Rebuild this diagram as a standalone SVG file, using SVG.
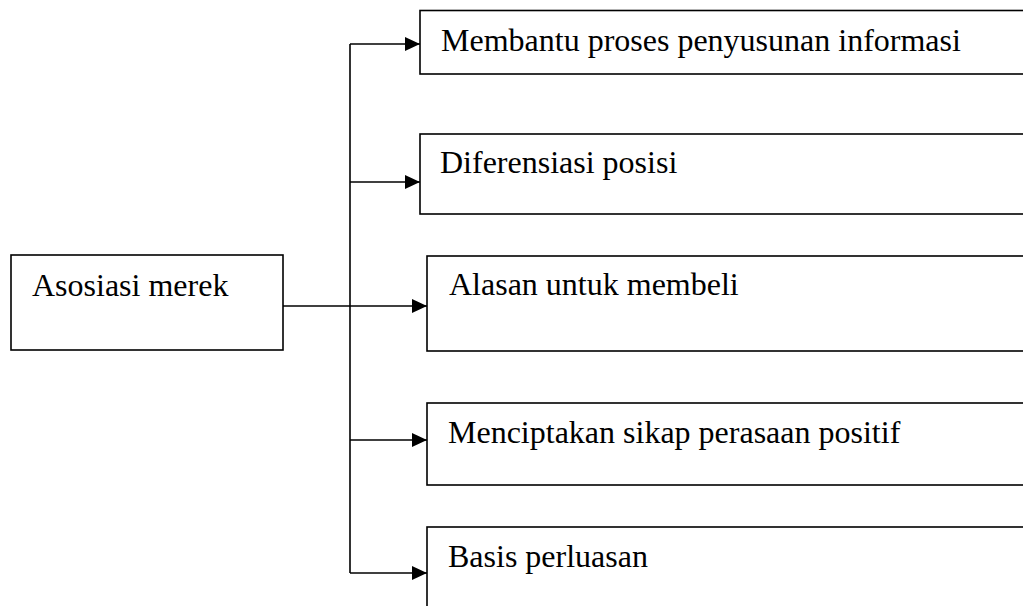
<svg xmlns="http://www.w3.org/2000/svg" width="1023" height="606" viewBox="0 0 1023 606">
<style>
.box{fill:#fff;stroke:#000;stroke-width:1.6}
.lbl{font-family:"Liberation Serif","Times New Roman",serif;font-size:32px;fill:#000}
.ln{fill:none;stroke:#000;stroke-width:1.6}
</style>
<defs>
<marker id="ah" markerWidth="15" markerHeight="14" refX="15" refY="7" orient="auto" markerUnits="userSpaceOnUse">
<path d="M0,0 L15,7 L0,14 Z" fill="#000"/>
</marker>
</defs>
<rect width="1023" height="606" fill="#fff"/>
<g id="node-asosiasi"><rect class="box" x="11" y="255" width="272" height="95"/><text class="lbl" x="32" y="296">Asosiasi merek</text></g>
<g id="node-membantu"><rect class="box" x="420" y="10.5" width="620" height="63.5"/><text class="lbl" x="441" y="51">Membantu proses penyusunan informasi</text></g>
<g id="node-diferensiasi"><rect class="box" x="420" y="134" width="620" height="80"/><text class="lbl" x="440" y="173">Diferensiasi posisi</text></g>
<g id="node-alasan"><rect class="box" x="427" y="256" width="613" height="95"/><text class="lbl" x="449" y="295">Alasan untuk membeli</text></g>
<g id="node-menciptakan"><rect class="box" x="427" y="403" width="613" height="82"/><text class="lbl" x="448" y="443">Menciptakan sikap perasaan positif</text></g>
<g id="node-basis"><rect class="box" x="427" y="527" width="613" height="100"/><text class="lbl" x="448" y="567">Basis perluasan</text></g>
<g id="connectors">
<line class="ln" x1="350" y1="44" x2="350" y2="573"/>
<line class="ln" x1="283" y1="306" x2="427" y2="306" marker-end="url(#ah)"/>
<line class="ln" x1="350" y1="44" x2="420" y2="44" marker-end="url(#ah)"/>
<line class="ln" x1="350" y1="182" x2="420" y2="182" marker-end="url(#ah)"/>
<line class="ln" x1="350" y1="440" x2="427" y2="440" marker-end="url(#ah)"/>
<line class="ln" x1="350" y1="573" x2="427" y2="573" marker-end="url(#ah)"/>
</g>
</svg>
